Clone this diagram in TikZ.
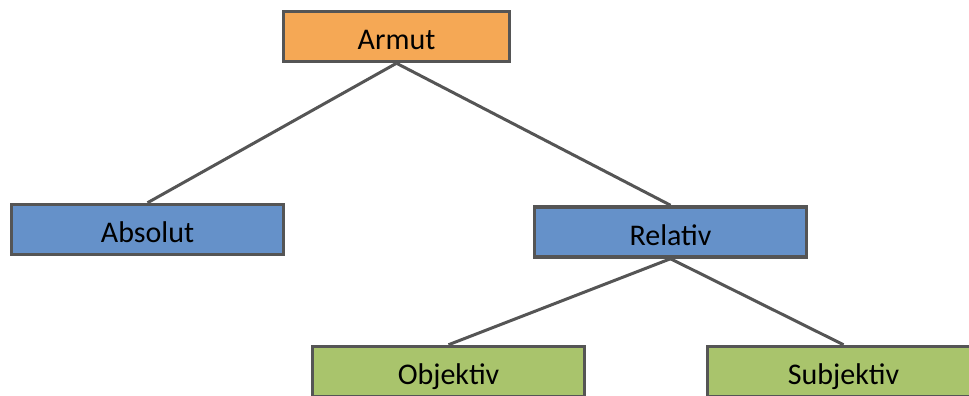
\documentclass[tikz,border=0pt]{standalone}
\usepackage{fontspec}
\setmainfont{Carlito}
\definecolor{orangefill}{HTML}{F5A855}
\definecolor{bluefill}{HTML}{6591C9}
\definecolor{greenfill}{HTML}{A9C46C}
\definecolor{edgegray}{HTML}{555555}
\begin{document}
\begin{tikzpicture}[x=1pt,y=-1pt,
  box/.style={draw=edgegray, line width=3.5pt, minimum width=272pt, minimum height=50pt, inner sep=0pt, text height=26pt, text depth=0pt, font=\fontsize{30}{36}\selectfont},
  conn/.style={draw=edgegray, line width=3pt}]
\useasboundingbox (0,0) rectangle (969,396);
\node[box, fill=orangefill, minimum width=226pt] (armut) at (396.5,36.5) {Armut};
\node[box, fill=bluefill] (absolut) at (147.5,229.5) {Absolut};
\node[box, fill=bluefill] (relativ) at (670.5,232) {Relativ};
\node[box, fill=greenfill] (objektiv) at (448.5,371.5) {Objektiv};
\node[box, fill=greenfill] (subjektiv) at (843.5,371.5) {Subjektiv};
\draw[conn] (armut.south) -- (absolut.north);
\draw[conn] (armut.south) -- (relativ.north);
\draw[conn] (relativ.south) -- (objektiv.north);
\draw[conn] (relativ.south) -- (subjektiv.north);
\end{tikzpicture}
\end{document}
